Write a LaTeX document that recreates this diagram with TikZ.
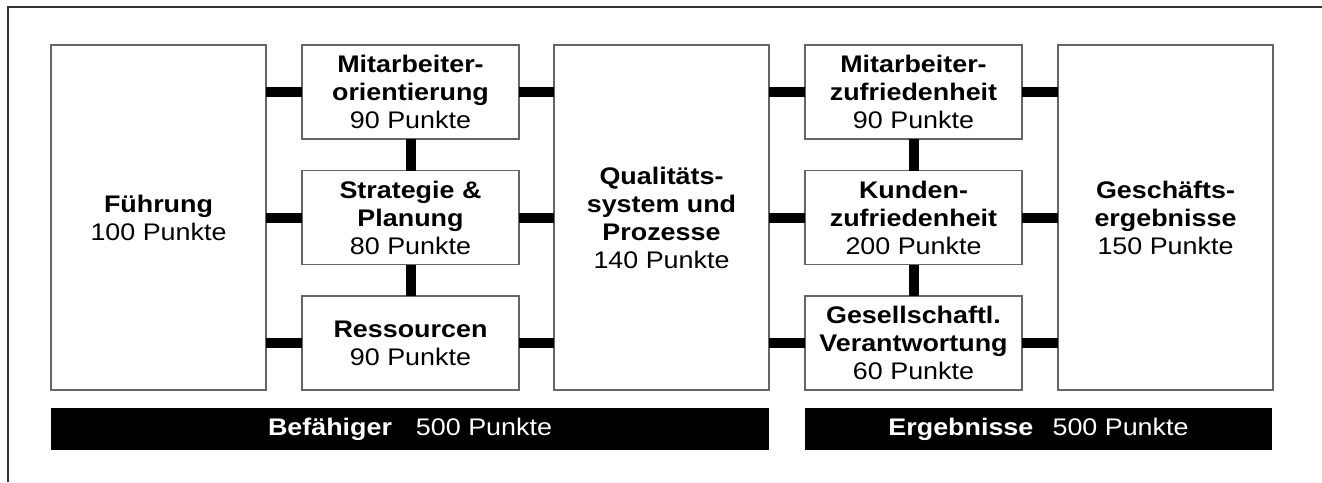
\documentclass[tikz,border=0pt]{standalone}
\usepackage{fontspec}
\setmainfont[FakeStretch=1.12]{Liberation Sans}
\usepackage{tikz}
\usetikzlibrary{positioning, calc}

\begin{document}
\begin{tikzpicture}[
    x=1pt, y=1pt,
    node distance=36pt,
    box/.style={rectangle, draw=black!60, line width=1.5pt, fill=white, align=center, inner sep=2pt, outer sep=0pt, font=\fontsize{24}{28}\selectfont},
    bigbox/.style={box, minimum width=215pt, minimum height=345pt},
    smallbox/.style={box, minimum width=217pt, minimum height=94pt},
    bar/.style={rectangle, fill=black, text=white, minimum height=42pt, inner sep=0pt, outer sep=0pt, font=\fontsize{24}{28}\selectfont},
    line/.style={draw, line width=10pt}
]
    \useasboundingbox (0,0) rectangle (1322,-482);
    \draw [black!80, line width=1.5pt] (8,-482) -- (8,-7) -- (1322,-7);

    % Nodes
    \node [bigbox] (fuehrung) at (158.5,-217.5) {\textbf{Führung}\\100 Punkte};
    \node [smallbox, right=36pt of fuehrung.north east, anchor=north west] (orient) {\textbf{Mitarbeiter-}\\\textbf{orientierung}\\90 Punkte};
    \node [smallbox, below=31.5pt of orient] (strategie) {\textbf{Strategie \&}\\\textbf{Planung}\\80 Punkte};
    \node [smallbox, below=31.5pt of strategie] (ressourcen) {\textbf{Ressourcen}\\90 Punkte};
    \node [bigbox, right=35pt of orient.north east, anchor=north west] (quali) {\textbf{Qualitäts-}\\\textbf{system und}\\\textbf{Prozesse}\\140 Punkte};
    \node [smallbox, right=36pt of quali.north east, anchor=north west] (mazufr) {\textbf{Mitarbeiter-}\\\textbf{zufriedenheit}\\90 Punkte};
    \node [smallbox, below=31.5pt of mazufr] (kuzufr) {\textbf{Kunden-}\\\textbf{zufriedenheit}\\200 Punkte};
    \node [smallbox, below=31.5pt of kuzufr] (gesell) {\textbf{Gesellschaftl.}\\\textbf{Verantwortung}\\60 Punkte};
    \node [bigbox, right=36pt of mazufr.north east, anchor=north west] (geschaeft) {\textbf{Geschäfts-}\\\textbf{ergebnisse}\\150 Punkte};

    \node [bar, minimum width=718pt, below=18pt of fuehrung.south west, anchor=north west] (befaehiger) {\textbf{Befähiger}\hspace{1em}500 Punkte};
    \node [bar, minimum width=467pt, below=18pt of gesell.south west, anchor=north west] (ergebnisse) {\textbf{Ergebnisse}\hspace{0.8em}500 Punkte};

    % Paths
    \path [line] (fuehrung.east |- orient.west) -- (orient.west);
    \path [line] (fuehrung.east |- strategie.west) -- (strategie.west);
    \path [line] (fuehrung.east |- ressourcen.west) -- (ressourcen.west);
    \path [line] (orient.east) -- (orient.east -| quali.west);
    \path [line] (strategie.east) -- (strategie.east -| quali.west);
    \path [line] (ressourcen.east) -- (ressourcen.east -| quali.west);
    \path [line] (orient.south) -- (strategie.north);
    \path [line] (strategie.south) -- (ressourcen.north);

    \path [line] (quali.east |- mazufr.west) -- (mazufr.west);
    \path [line] (quali.east |- kuzufr.west) -- (kuzufr.west);
    \path [line] (quali.east |- gesell.west) -- (gesell.west);
    \path [line] (mazufr.east) -- (mazufr.east -| geschaeft.west);
    \path [line] (kuzufr.east) -- (kuzufr.east -| geschaeft.west);
    \path [line] (gesell.east) -- (gesell.east -| geschaeft.west);
    \path [line] (mazufr.south) -- (kuzufr.north);
    \path [line] (kuzufr.south) -- (gesell.north);
\end{tikzpicture}
\end{document}
